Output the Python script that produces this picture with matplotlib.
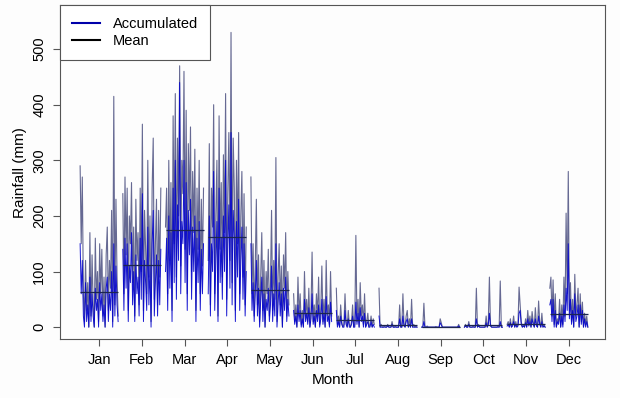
import matplotlib.pyplot as plt
import numpy as np

plt.rcParams['font.family'] = ['Liberation Sans', 'DejaVu Sans']

months = ['Jan', 'Feb', 'Mar', 'Apr', 'May', 'Jun', 'Jul', 'Aug', 'Sep', 'Oct', 'Nov', 'Dec']

# upper (grey) trace
jan_hi = [290, 150, 270, 60, 10, 120, 30, 80, 0, 170, 20, 130, 40, 0, 160, 50, 100, 10, 150, 60, 140, 20, 90, 0, 130, 180, 30, 120, 70, 210, 10, 415, 40, 230, 90, 20]
feb_hi = [240, 60, 270, 130, 250, 30, 200, 150, 260, 80, 180, 20, 230, 120, 170, 40, 250, 100, 365, 30, 210, 140, 60, 300, 90, 200, 10, 250, 340, 50, 150, 230, 40, 210, 90, 250]
mar_hi = [180, 250, 60, 300, 120, 260, 30, 380, 150, 420, 90, 340, 200, 470, 110, 300, 240, 460, 140, 390, 60, 330, 210, 360, 100, 280, 170, 320, 30, 250, 140, 300, 60, 230, 110, 250]
apr_hi = [120, 330, 40, 250, 180, 400, 60, 200, 300, 20, 380, 140, 260, 90, 310, 170, 420, 50, 240, 350, 120, 530, 80, 340, 250, 30, 300, 150, 350, 60, 200, 280, 90, 240, 40, 180]
may_hi = [270, 60, 150, 20, 110, 230, 40, 130, 10, 90, 170, 30, 120, 0, 100, 60, 140, 20, 80, 210, 30, 120, 50, 305, 10, 90, 150, 40, 110, 0, 130, 70, 170, 20, 100, 40]
jun_hi = [60, 10, 40, 0, 90, 20, 60, 5, 30, 0, 100, 20, 50, 10, 70, 0, 30, 135, 10, 40, 0, 60, 20, 90, 5, 30, 110, 10, 50, 0, 120, 20, 40, 5, 100, 20]
jul_hi = [70, 5, 20, 0, 40, 10, 0, 5, 60, 10, 0, 30, 5, 0, 10, 40, 0, 5, 165, 10, 50, 0, 80, 20, 40, 5, 60, 0, 10, 25, 0, 5, 20, 0, 15, 5]
aug_hi = [70, 0, 5, 0, 0, 2, 0, 0, 5, 0, 0, 0, 10, 0, 0, 2, 0, 0, 0, 40, 0, 0, 60, 5, 0, 20, 30, 0, 15, 0, 50, 0, 5, 0, 2, 0]
sep_hi = [0, 0, 43, 0, 0, 2, 0, 0, 0, 0, 0, 0, 0, 1, 0, 0, 0, 15, 8, 0, 0, 0, 0, 0, 0, 0, 0, 0, 0, 0, 0, 0, 0, 0, 5, 0]
oct_hi = [0, 5, 0, 0, 10, 0, 0, 0, 2, 0, 0, 70, 0, 5, 0, 0, 0, 0, 0, 0, 20, 0, 10, 90, 5, 0, 0, 0, 0, 0, 0, 2, 0, 83, 0, 0]
nov_hi = [5, 10, 0, 15, 0, 5, 20, 0, 10, 0, 5, 72, 40, 10, 0, 5, 0, 15, 0, 30, 5, 20, 0, 28, 10, 0, 35, 5, 0, 47, 10, 0, 25, 0, 5, 0]
dec_hi = [70, 90, 20, 85, 5, 60, 0, 15, 10, 50, 0, 40, 5, 90, 20, 205, 60, 280, 30, 80, 10, 50, 0, 95, 20, 40, 70, 0, 60, 10, 45, 0, 25, 5, 20, 0]

# lower (blue) trace
jan_lo = [150, 60, 120, 20, 0, 80, 10, 40, 0, 90, 10, 60, 20, 0, 70, 30, 50, 0, 80, 30, 60, 10, 40, 0, 70, 90, 10, 60, 30, 100, 0, 150, 20, 110, 40, 10]
feb_lo = [140, 30, 160, 70, 150, 10, 110, 80, 170, 40, 100, 10, 130, 60, 90, 20, 160, 50, 240, 10, 120, 80, 30, 180, 40, 110, 0, 150, 210, 20, 80, 130, 20, 120, 40, 140]
mar_lo = [100, 160, 30, 200, 70, 170, 10, 250, 80, 300, 50, 220, 120, 440, 60, 190, 150, 300, 80, 260, 30, 210, 130, 230, 50, 180, 100, 200, 10, 160, 80, 190, 30, 140, 60, 150]
apr_lo = [60, 200, 20, 150, 100, 280, 30, 120, 190, 10, 250, 80, 160, 50, 200, 100, 300, 20, 150, 220, 70, 350, 40, 210, 160, 10, 190, 90, 230, 30, 120, 180, 50, 150, 20, 100]
may_lo = [150, 30, 80, 10, 60, 120, 20, 70, 0, 50, 90, 10, 60, 0, 50, 30, 70, 10, 40, 110, 10, 60, 20, 150, 0, 40, 80, 20, 60, 0, 70, 30, 90, 10, 50, 20]
jun_lo = [30, 5, 20, 0, 40, 10, 30, 0, 15, 0, 50, 10, 25, 5, 35, 0, 15, 60, 5, 20, 0, 30, 10, 40, 0, 15, 50, 5, 25, 0, 55, 10, 20, 0, 45, 10]
jul_lo = [30, 0, 10, 0, 20, 5, 0, 0, 30, 5, 0, 15, 0, 0, 5, 20, 0, 0, 45, 5, 25, 0, 35, 10, 20, 0, 25, 0, 5, 10, 0, 0, 10, 0, 5, 0]
aug_lo = [20, 0, 0, 0, 0, 0, 0, 0, 2, 0, 0, 0, 5, 0, 0, 0, 0, 0, 0, 15, 0, 0, 20, 2, 0, 10, 15, 0, 5, 0, 15, 0, 0, 0, 0, 0]
sep_lo = [0, 0, 10, 0, 0, 0, 0, 0, 0, 0, 0, 0, 0, 0, 0, 0, 0, 8, 4, 0, 0, 0, 0, 0, 0, 0, 0, 0, 0, 0, 0, 0, 0, 0, 2, 0]
oct_lo = [0, 2, 0, 0, 5, 0, 0, 0, 0, 0, 0, 15, 0, 2, 0, 0, 0, 0, 0, 0, 8, 0, 4, 25, 2, 0, 0, 0, 0, 0, 0, 0, 0, 10, 0, 0]
nov_lo = [2, 5, 0, 8, 0, 2, 10, 0, 5, 0, 2, 25, 30, 5, 0, 2, 0, 8, 0, 15, 2, 10, 0, 15, 5, 0, 15, 2, 0, 20, 5, 0, 10, 0, 2, 0]
dec_lo = [40, 50, 10, 50, 0, 30, 0, 10, 5, 25, 0, 20, 0, 40, 10, 70, 30, 150, 15, 50, 5, 30, 0, 60, 10, 20, 40, 0, 40, 5, 30, 0, 15, 0, 10, 0]

means = [64, 112, 174, 163, 67, 26, 12, 3, 1, 4, 5, 23]

hi = [jan_hi, feb_hi, mar_hi, apr_hi, may_hi, jun_hi, jul_hi, aug_hi, sep_hi, oct_hi, nov_hi, dec_hi]
lo = [jan_lo, feb_lo, mar_lo, apr_lo, may_lo, jun_lo, jul_lo, aug_lo, sep_lo, oct_lo, nov_lo, dec_lo]

fig = plt.figure(figsize=(6.2, 3.98), dpi=100)
fig.patch.set_facecolor('#fdfdfd')
ax = fig.add_axes([0.097, 0.148, 0.879, 0.839])
ax.set_facecolor('#fdfdfd')

half = 0.445
for i in range(12):
    m = i + 1
    x = np.linspace(m - half, m + half, len(hi[i]))
    ax.plot(x, hi[i], color='#262b66', alpha=0.7, lw=0.8)
    ax.plot(x, lo[i], color='#0000cc', alpha=0.9, lw=0.7)
    ax.hlines(means[i], m - half, m + half, color='#1c2550', lw=0.9)

ax.set_xlim(0.087, 12.85)
ax.set_ylim(-21.5, 579)
ax.set_xticks(range(1, 13))
ax.set_xticklabels(months)
ax.set_yticks([0, 100, 200, 300, 400, 500])
for lab in ax.get_yticklabels():
    lab.set_rotation(90)
    lab.set_va('center')
ax.tick_params(labelsize=10.5, length=5, color='#555555', pad=5)
ax.set_xlabel('Month', fontsize=11)
ax.set_ylabel('Rainfall (mm)', fontsize=11)
for s in ax.spines.values():
    s.set_color('#555555')
    s.set_linewidth(0.8)

handles = [plt.Line2D([], [], color='#0000aa', lw=1.5), plt.Line2D([], [], color='black', lw=1.5)]
leg = ax.legend(handles, ['Accumulated', 'Mean'], loc='upper left', borderaxespad=0,
                fancybox=False, fontsize=10.5, handlelength=1.9, handletextpad=0.9,
                framealpha=1, labelspacing=0.25, borderpad=0.8)
leg.get_frame().set_edgecolor('#555555')
leg.get_frame().set_linewidth(0.8)

plt.savefig('out.png', dpi=100, facecolor=fig.get_facecolor())
